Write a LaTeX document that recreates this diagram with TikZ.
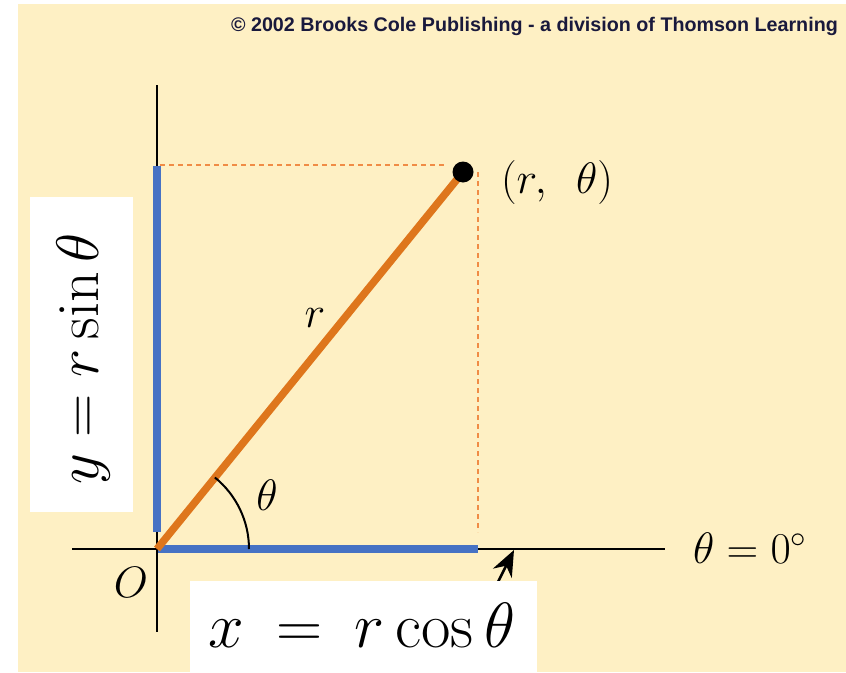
\RequirePackage{fix-cm}
\documentclass[tikz,border=0pt]{standalone}
\usepackage{fontspec}
\newfontfamily\copyfont{Liberation Sans}
\usetikzlibrary{arrows.meta}
\definecolor{bgyellow}{RGB}{254,240,196}
\definecolor{axisblue}{RGB}{70,114,196}
\definecolor{rorange}{RGB}{222,118,28}
\definecolor{dashorange}{RGB}{240,140,70}
\definecolor{copynavy}{RGB}{25,25,60}
\tikzset{
  axisline/.style={line width=2.4pt, black},
  bluebar/.style={line width=7.5pt, axisblue},
  radius line/.style={line width=7.5pt, rorange},
  guide/.style={line width=1.1pt, dashorange, dash pattern=on 5pt off 4pt},
  whitebox/.style={fill=white, inner sep=0pt},
  biglabel/.style={inner sep=0pt, font=\fontsize{44}{50}\selectfont},
}
\begin{document}
\begin{tikzpicture}[x=1pt,y=-1pt]
\useasboundingbox (0,0) rectangle (846,672);
\fill[bgyellow] (18,4) rectangle (846,672);
% coordinates
\coordinate (O) at (157,549);
\coordinate (P) at (463,172);
\coordinate (Ytop) at (157,85);
\coordinate (Ybot) at (157,632);
\coordinate (Xl) at (72,549);
\coordinate (Xr) at (665,549);
\coordinate (Hl) at (160,165);
\coordinate (Hr) at (447,165);
\coordinate (Vt) at (478,172);
\coordinate (Vb) at (478,532);
\coordinate (By1) at (157,166);
\coordinate (By2) at (157,532);
\coordinate (Bx1) at (158,549);
\coordinate (Bx2) at (478,549);
\coordinate (Atail) at (492,594);
\coordinate (Ahead) at (514,550);
% guides
\draw[guide] (Hl) -- (Hr);
\draw[guide] (Vt) -- (Vb);
% axes
\draw[axisline] (Ytop) -- (Ybot);
\draw[axisline] (Xl) -- (Xr);
% blue bars
\draw[bluebar] (By1) -- (By2);
\draw[bluebar] (Bx1) -- (Bx2);
% radius
\draw[radius line] (O) -- (P);
\fill[black] (P) circle (10.5);
% angle arc
\draw[line width=2pt] ([shift={(92,0)}]O) arc[start angle=0, end angle=-51, radius=92];
% arrow
\draw[line width=2.6pt, -{Stealth[length=26pt,width=21pt]}] (Atail) -- (Ahead);
% white boxes
\node[whitebox, minimum width=347pt, minimum height=92pt] (xbox) at (363.5,626.5) {};
\node[whitebox, minimum width=103pt, minimum height=315pt] (ybox) at (81.5,354.5) {};
% labels
\node[inner sep=0pt, anchor=base, font=\fontsize{64}{70}\selectfont] (xlab) at (362,647) {$x\:=\:r\cos\theta$};
\node[inner sep=0pt, anchor=base, rotate=90, font=\fontsize{60}{64}\selectfont] (ylab) at (98,359) {$y=r\sin\theta$};
\node[biglabel, anchor=base] (ptlab) at (557,193) {$(r,\hspace{0.5em}\theta)$};
\node[biglabel, anchor=base west] (zlab) at (693,563) {$\theta=0^\circ$};
\node[biglabel, anchor=base] (thlab) at (267,510) {$\theta$};
\node[biglabel, anchor=base] (rlab) at (315,327) {$r$};
\node[biglabel, anchor=base] (olab) at (131,597) {$O$};
\node[inner sep=0pt, anchor=base east, text=copynavy, font=\copyfont\bfseries\fontsize{19.7}{22}\selectfont] (copy) at (838,31) {© 2002 Brooks Cole Publishing - a division of Thomson Learning};
\end{tikzpicture}
\end{document}
